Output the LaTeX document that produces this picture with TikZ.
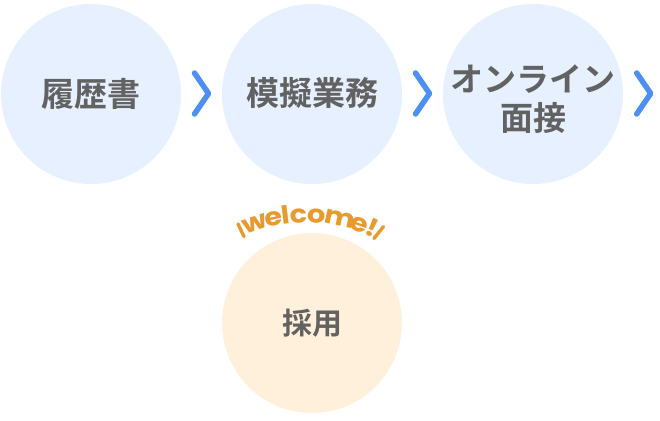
\documentclass[tikz,border=0pt]{standalone}
\usepackage{fontspec}
\newfontfamily\jp{Noto Sans CJK JP}[BoldFont={Noto Sans CJK JP Bold}]
\newfontfamily\wfont{Poppins}[FakeStretch=1.15]
\usetikzlibrary{calc}
\definecolor{bluebg}{HTML}{E6F0FE}
\definecolor{orangebg}{HTML}{FFF0DC}
\definecolor{chevblue}{HTML}{4D90F2}
\definecolor{welcomeor}{HTML}{E99A2C}
\definecolor{txtgray}{HTML}{626262}
\tikzset{
  stepcirc/.style={circle, minimum size=180pt, inner sep=0pt, fill=bluebg},
  steptext/.style={text=txtgray, inner sep=0pt,
    font=\jp\bfseries\fontsize{33}{39}\selectfont, align=center},
  hirecirc/.style={stepcirc, fill=orangebg},
  hiretext/.style={steptext, font=\jp\bfseries\fontsize{30}{36}\selectfont},
  chevline/.style={draw=chevblue, line width=5.5pt, line cap=round, line join=round},
  slashline/.style={draw=welcomeor, line width=3.4pt, line cap=round},
  wchar/.style={text=welcomeor, font=\wfont\bfseries\fontsize{25}{25}\selectfont,
    anchor=base, inner sep=0pt},
  chevron/.pic={\path[chevline] (-7,20.5) -- (7,0) -- (-7,-20.5);}
}
\begin{document}
\begin{tikzpicture}[x=1pt,y=1pt]
\useasboundingbox (0,0) rectangle (660,420);
\node[stepcirc] (c1) at (91,326) {};
\node[stepcirc] (c2) at (312,326) {};
\node[stepcirc] (c3) at (533,326) {};
\node[hirecirc] (c4) at (312,97) {};
\node[steptext] (t1) at ($(c1.center)+(0,0)$) {履歴書};
\node[steptext] (t2) at ($(c2.center)+(0,1)$) {模擬業務};
\node[steptext] (t3) at ($(c3.center)+(0,-5)$) {オンライン\\面接};
\node[hiretext] (t4) at ($(c4.center)+(0,0)$) {採用};
\pic at ($(c1.east)!0.5!(c2.west)+(0,0.5)$) {chevron};
\pic at ($(c2.east)!0.5!(c3.west)+(0,0.5)$) {chevron};
\pic at ($(c3.east)+(20.5,0.5)$) {chevron};
% welcome! along an arc
\coordinate (wc) at (306,46.5);
\node[wchar, rotate=18.9]  (w1) at ($(wc)+(108.9:151)$) {w};
\node[wchar, rotate=11.85] (w2) at ($(wc)+(101.85:151)$) {e};
\node[wchar, rotate=7.4]   (w3) at ($(wc)+(97.4:151)$) {l};
\node[wchar, rotate=2.7]   (w4) at ($(wc)+(92.7:151)$) {c};
\node[wchar, rotate=-3.7]  (w5) at ($(wc)+(86.3:151)$) {o};
\node[wchar, rotate=-12.2] (w6) at ($(wc)+(77.8:151)$) {m};
\node[wchar, rotate=-19.5] (w7) at ($(wc)+(70.5:151)$) {e};
\node[wchar, rotate=-24.5] (w8) at ($(wc)+(65.5:151)$) {!};
\coordinate (s1a) at (238,196);
\coordinate (s1b) at (244,183.5);
\coordinate (s2a) at (383.5,193.5);
\coordinate (s2b) at (374,181.5);
\path[slashline] (s1a) -- (s1b);
\path[slashline] (s2a) -- (s2b);
\end{tikzpicture}
\end{document}
